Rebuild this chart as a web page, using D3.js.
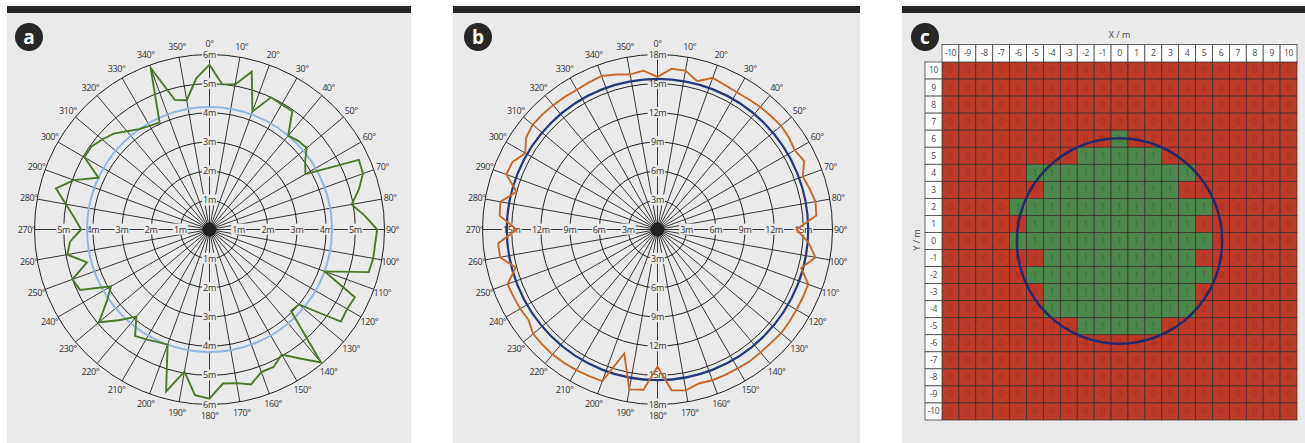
<!DOCTYPE html>
<html>
<head>
<meta charset="utf-8">
<script src="https://cdn.jsdelivr.net/npm/d3@7"></script>
<style>
  body { margin: 0; background: #fff; }
  svg { display: block; font-family: "Open Sans", sans-serif; }
</style>
</head>
<body>
<svg id="chart" width="1305" height="443"></svg>
<script>
// ---------- data ----------
let angles = d3.range(0, 360, 5);              // measurement directions, degrees
let greenDist = [5.65, 5.0, 5.05, 5.6, 4.3, 5.0, 4.95, 4.95, 4.2, 4.3, 4.35, 4.0,
                 3.8, 5.65, 5.6, 5.3, 4.95, 5.35, 5.75, 5.7, 5.7, 5.65, 4.2, 5.5,
                 5.45, 5.5, 4.0, 3.95, 5.95, 5.4, 4.95, 5.2, 5.2, 5.5, 5.35, 5.3,
                 5.8, 5.7, 4.95, 5.75, 4.2, 4.25, 4.35, 4.45, 3.9, 4.4, 4.95, 4.3,
                 3.9, 4.9, 5.0, 4.35, 4.95, 4.8, 4.4, 4.65, 5.0, 5.45, 4.95, 4.2,
                 4.95, 4.95, 4.8, 4.65, 4.4, 4.2, 4.1, 4.05, 5.9, 4.6, 4.5, 5.2];
let orangeDist = [15.7, 16.6, 16.6, 15.8, 16.6, 16.4, 16.3, 16.35, 16.45, 16.5, 16.6, 16.5,
                  16.3, 16.65, 15.9, 16.2, 16.5, 16.4, 14.3, 15.6, 16.5, 15.3, 16.5, 16.5,
                  16.5, 16.55, 16.6, 16.5, 16.5, 16.55, 16.5, 16.5, 16.5, 16.4, 16.8, 16.6,
                  14.1, 16.55, 16.7, 13.2, 16.6, 16.65, 16.7, 16.75, 16.8, 16.75, 16.7, 16.2,
                  16.3, 16.35, 16.4, 15.1, 16.45, 16.45, 14.5, 16.3, 16.4, 15.0, 16.55, 16.45,
                  15.7, 16.5, 16.75, 16.75, 16.7, 16.65, 16.6, 16.7, 16.8, 16.5, 16.2, 16.4];
let blueRadiusA = 4.2;
let navyRadiusB = 15.5;
let ringsA = [1, 2, 3, 4, 5, 6];
let ringsB = [3, 6, 9, 12, 15, 18];
let degreeTicks = d3.range(0, 360, 10);

let gridX = d3.range(-10, 11);
let gridY = d3.range(10, -11, -1);
let greenRows = [6, 5, 4, 3, 2, 1, 0, -1, -2, -3, -4, -5];
let greenFrom = [0, -2, -5, -4, -6, -5, -6, -4, -5, -4, -4, -2];
let greenTo   = [0, 2, 4, 3, 5, 4, 5, 4, 5, 4, 4, 2];
let circleRadiusC = 6.05;

// ---------- drawing ----------
const svg = d3.select('#chart');
const bg = '#eaeaea';
const ink = '#222';
const rad = Math.PI / 180;

function frame(x0, x1) {
  svg.append('rect').attr('x', x0).attr('y', 13).attr('width', x1 - x0).attr('height', 430).attr('fill', bg);
  svg.append('rect').attr('x', x0).attr('y', 6).attr('width', x1 - x0).attr('height', 7).attr('fill', '#272727');
}

function badge(cx, letter) {
  svg.append('circle').attr('cx', cx).attr('cy', 37).attr('r', 14).attr('fill', '#272727');
  svg.append('text').attr('x', cx).attr('y', 37).attr('dy', '0.35em')
    .attr('text-anchor', 'middle').attr('fill', '#fff')
    .style('font-size', '19px').style('font-weight', 700)
    .text(letter);
}

function labelWithBg(sel) {
  sel.each(function () {
    let g = d3.select(this);
    let b = g.select('text').node().getBBox();
    g.insert('rect', 'text')
      .attr('x', b.x - 1).attr('y', b.y + 1)
      .attr('width', b.width + 2).attr('height', b.height - 2)
      .attr('fill', bg);
  });
}

function polarPanel(cx, cy, rings, values, lineColor, refR, refColor, refWidth) {
  let g = svg.append('g').attr('transform', 'translate(' + cx + ',' + cy + ')');
  let maxR = d3.max(rings);
  let r = d3.scaleLinear().domain([0, maxR]).range([0, 175]);

  g.selectAll('line.spoke')
    .data(degreeTicks)
    .join('line')
    .attr('x1', 0).attr('y1', 0)
    .attr('x2', d => r(maxR) * Math.sin(d * rad))
    .attr('y2', d => -r(maxR) * Math.cos(d * rad))
    .attr('stroke', ink).attr('stroke-width', 0.9);

  g.selectAll('circle.ring')
    .data(rings)
    .join('circle')
    .attr('r', d => r(d))
    .attr('fill', 'none')
    .attr('stroke', ink).attr('stroke-width', 1);

  g.append('circle').attr('r', 7).attr('fill', ink);

  // distance labels on the axes (outer ring only on the vertical axis)
  let dirs = [[0, -1], [0, 1], [-1, 0], [1, 0]];
  let labs = g.selectAll('g.mlab')
    .data(rings.flatMap(v => dirs
      .filter(d => v < maxR || d[0] === 0)
      .map(d => ({ v: v, dx: d[0], dy: d[1] }))))
    .join('g')
    .attr('transform', d => 'translate(' + d.dx * r(d.v) + ',' + d.dy * r(d.v) + ')');
  labs.append('text')
    .attr('text-anchor', 'middle').attr('dy', '0.35em')
    .attr('fill', '#333')
    .style('font-size', '9px').style('letter-spacing', '-0.3px')
    .text(d => d.v + 'm');
  labelWithBg(labs);

  // degree labels
  g.selectAll('text.deg')
    .data(degreeTicks)
    .join('text')
    .attr('x', d => (r(maxR) + 8 + 3 * Math.abs(Math.cos(d * rad))) * Math.sin(d * rad))
    .attr('y', d => -(r(maxR) + 8 + 3 * Math.abs(Math.cos(d * rad))) * Math.cos(d * rad))
    .attr('dy', '0.35em')
    .attr('text-anchor', 'middle')
    .attr('fill', '#333')
    .style('font-size', '9px').style('letter-spacing', '-0.4px')
    .text(d => d + '°');

  g.append('circle')
    .attr('r', r(refR))
    .attr('fill', 'none')
    .attr('stroke', refColor).attr('stroke-width', refWidth);

  let radial = d3.lineRadial()
    .angle(d => d[0] * rad)
    .radius(d => r(d[1]))
    .curve(d3.curveLinearClosed);
  g.append('path')
    .datum(angles.map((a, i) => [a, values[i]]))
    .attr('d', radial)
    .attr('fill', 'none')
    .attr('stroke', lineColor).attr('stroke-width', 1.9)
    .attr('stroke-linejoin', 'miter');
}

// panel a
frame(7, 411);
polarPanel(209.5, 229.5, ringsA, greenDist, '#4a792c', blueRadiusA, '#92b7de', 2);
badge(29, 'a');

// panel b
frame(453, 860);
polarPanel(657.5, 229.5, ringsB, orangeDist, '#c4692c', navyRadiusB, '#22397a', 2.2);
badge(478, 'b');

// panel c
frame(902, 1305);
let x = d3.scaleBand().domain(gridX).range([942, 1297]);
let y = d3.scaleBand().domain(gridY).range([62, 420]);
let bw = x.bandwidth(), bh = y.bandwidth();

function cellValue(cx, cy) {
  let i = greenRows.indexOf(cy);
  return (i >= 0 && cx >= greenFrom[i] && cx <= greenTo[i]) ? 1 : 0;
}

let cells = gridY.flatMap(yy => gridX.map(xx => ({ x: xx, y: yy, v: cellValue(xx, yy) })));
let gc = svg.append('g');
gc.selectAll('rect.cell')
  .data(cells)
  .join('rect')
  .attr('x', d => x(d.x)).attr('y', d => y(d.y))
  .attr('width', bw).attr('height', bh)
  .attr('fill', d => d.v ? '#4b8749' : '#bc3a27')
  .attr('stroke', '#3a3030').attr('stroke-width', 0.7);
gc.selectAll('text.cell')
  .data(cells)
  .join('text')
  .attr('x', d => x(d.x) + bw / 2).attr('y', d => y(d.y) + bh / 2)
  .attr('dy', '0.35em').attr('text-anchor', 'middle')
  .attr('fill', d => d.v ? '#316a34' : '#a02d1d')
  .style('font-size', '8.5px')
  .text(d => d.v);

// column and row headers
gc.selectAll('rect.colh')
  .data(gridX)
  .join('rect')
  .attr('x', d => x(d)).attr('y', 44.5)
  .attr('width', bw).attr('height', 62 - 44.5)
  .attr('fill', '#fff').attr('stroke', '#444').attr('stroke-width', 0.8);
gc.selectAll('text.colh')
  .data(gridX)
  .join('text')
  .attr('x', d => x(d) + bw / 2).attr('y', 53.5)
  .attr('dy', '0.35em').attr('text-anchor', 'middle')
  .attr('fill', '#444')
  .style('font-size', '8.5px').style('letter-spacing', '-0.4px')
  .text(d => d);
gc.selectAll('rect.rowh')
  .data(gridY)
  .join('rect')
  .attr('x', 925).attr('y', d => y(d))
  .attr('width', 942 - 925).attr('height', bh)
  .attr('fill', '#fff').attr('stroke', '#444').attr('stroke-width', 0.8);
gc.selectAll('text.rowh')
  .data(gridY)
  .join('text')
  .attr('x', 933.5).attr('y', d => y(d) + bh / 2)
  .attr('dy', '0.35em').attr('text-anchor', 'middle')
  .attr('fill', '#444')
  .style('font-size', '8.5px').style('letter-spacing', '-0.4px')
  .text(d => d);

gc.append('circle')
  .attr('cx', x(0) + bw / 2).attr('cy', y(0) + bh / 2)
  .attr('r', circleRadiusC * (bw + bh) / 2)
  .attr('fill', 'none')
  .attr('stroke', '#262a6c').attr('stroke-width', 2.5);

svg.append('text')
  .attr('x', 1119.5).attr('y', 35).attr('dy', '0.35em')
  .attr('text-anchor', 'middle').attr('fill', '#444')
  .style('font-size', '9px')
  .text('X / m');
svg.append('text')
  .attr('transform', 'translate(917,240) rotate(-90)')
  .attr('dy', '0.35em')
  .attr('text-anchor', 'middle').attr('fill', '#444')
  .style('font-size', '9px')
  .text('Y / m');

badge(925, 'c');
</script>
</body>
</html>
